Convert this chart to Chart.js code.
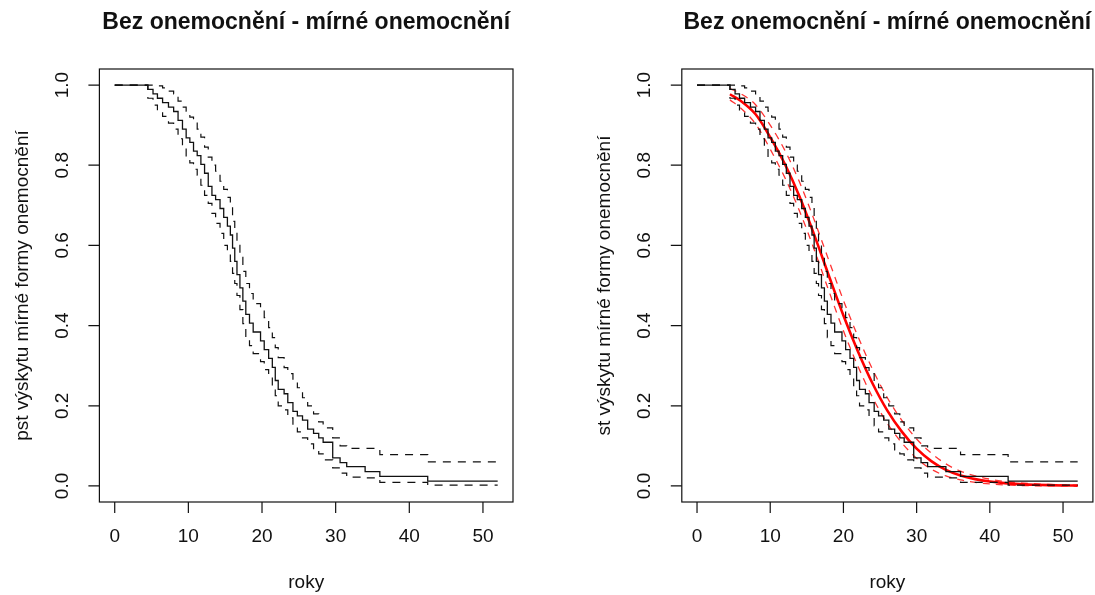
<!DOCTYPE html>
<html>
<head>
<meta charset="utf-8">
<script src="https://cdn.jsdelivr.net/npm/chart.js@4/dist/chart.umd.min.js"></script>
<style>
  body { margin: 0; background: #fff; }
  canvas { position: absolute; top: 0; }
</style>
</head>
<body>
<canvas id="leftChart" width="548" height="595" style="left:0px"></canvas>
<canvas id="rightChart" width="547" height="595" style="left:548px"></canvas>
<script>
// Kaplan-Meier estimate (years, survival) with confidence bounds
const kmTime = [0, 4.5, 5.2, 5.8, 6.5, 7.3, 8.0, 8.6, 9.2, 9.7, 10.2, 10.7, 11.2, 11.7, 12.2, 12.7, 13.2, 13.7, 14.3, 14.8, 15.3, 15.7, 16.0, 16.3, 16.6, 17.0, 17.4, 17.8, 18.3, 18.8, 19.8, 20.3, 20.9, 21.4, 21.8, 22.2, 23.0, 23.5, 24.2, 24.8, 25.5, 26.2, 27.0, 27.7, 28.3, 29.6, 30.6, 31.5, 34.0, 36.0, 42.5, 52];
const kmSurv = [1, 0.989, 0.978, 0.967, 0.956, 0.945, 0.934, 0.912, 0.890, 0.868, 0.857, 0.835, 0.824, 0.802, 0.780, 0.747, 0.725, 0.714, 0.692, 0.670, 0.648, 0.626, 0.593, 0.560, 0.527, 0.494, 0.461, 0.428, 0.406, 0.384, 0.362, 0.340, 0.318, 0.296, 0.263, 0.241, 0.230, 0.208, 0.186, 0.175, 0.164, 0.142, 0.131, 0.120, 0.109, 0.070, 0.058, 0.048, 0.036, 0.024, 0.012, 0.012];
const kmUpper = [1, 1, 1, 0.998, 0.993, 0.985, 0.978, 0.960, 0.945, 0.935, 0.920, 0.905, 0.890, 0.870, 0.845, 0.820, 0.800, 0.785, 0.760, 0.740, 0.720, 0.700, 0.660, 0.630, 0.600, 0.570, 0.535, 0.505, 0.480, 0.455, 0.445, 0.420, 0.395, 0.370, 0.345, 0.320, 0.295, 0.280, 0.260, 0.245, 0.220, 0.200, 0.180, 0.160, 0.145, 0.120, 0.100, 0.094, 0.094, 0.078, 0.060, 0.060];
const kmLower = [1, 0.967, 0.950, 0.935, 0.922, 0.905, 0.890, 0.866, 0.845, 0.820, 0.806, 0.790, 0.775, 0.750, 0.725, 0.705, 0.680, 0.655, 0.630, 0.600, 0.585, 0.560, 0.530, 0.505, 0.475, 0.440, 0.405, 0.370, 0.350, 0.330, 0.310, 0.290, 0.275, 0.250, 0.225, 0.200, 0.190, 0.170, 0.150, 0.135, 0.120, 0.105, 0.090, 0.080, 0.065, 0.045, 0.032, 0.022, 0.020, 0.009, 0.002, 0.002];

// fitted parametric curve (red) with its bounds
const fitTime = [4.5, 6, 8, 10, 12, 14, 16, 18, 20, 22, 24, 26, 28, 30, 32, 34, 36, 38, 40, 42, 44, 46, 48, 50, 52];
const fitSurv = [0.977, 0.960, 0.927, 0.870, 0.803, 0.722, 0.627, 0.525, 0.425, 0.335, 0.255, 0.188, 0.135, 0.093, 0.062, 0.040, 0.026, 0.017, 0.011, 0.007, 0.0045, 0.003, 0.002, 0.0013, 0.0009];
const fitUpper = [0.991, 0.978, 0.951, 0.900, 0.837, 0.758, 0.664, 0.563, 0.463, 0.372, 0.290, 0.220, 0.163, 0.117, 0.082, 0.055, 0.037, 0.025, 0.017, 0.0115, 0.008, 0.0055, 0.004, 0.0028, 0.0021];
const fitLower = [0.963, 0.942, 0.903, 0.840, 0.769, 0.686, 0.590, 0.487, 0.387, 0.298, 0.220, 0.156, 0.107, 0.069, 0.042, 0.025, 0.015, 0.009, 0.005, 0.0025, 0.001, 0.0005, 0, 0, 0];

const xTicks = [0, 10, 20, 30, 40, 50];
const yTicks = [0, 0.2, 0.4, 0.6, 0.8, 1.0];
const yTickLabels = ['0.0', '0.2', '0.4', '0.6', '0.8', '1.0'];

const titleText = 'Bez onemocnění - mírné onemocnění';
const xTitle = 'roky';

function pts(xs, ys) {
    return xs.map((x, i) => ({ x: x, y: ys[i] }));
}

// R-like box, ticks and labels
const framePlugin = {
    id: 'frame',
    afterDraw(chart, args, opts) {
        const ctx = chart.ctx;
        const a = chart.chartArea;
        const xs = chart.scales.x, ys = chart.scales.y;
        ctx.save();
        ctx.strokeStyle = '#111';
        ctx.lineWidth = 1.2;
        ctx.setLineDash([]);
        ctx.strokeRect(a.left, a.top, a.right - a.left, a.bottom - a.top);
        ctx.beginPath();
        xTicks.forEach(v => {
            const px = xs.getPixelForValue(v);
            ctx.moveTo(px, a.bottom);
            ctx.lineTo(px, a.bottom + 11);
        });
        yTicks.forEach(v => {
            const py = ys.getPixelForValue(v);
            ctx.moveTo(a.left, py);
            ctx.lineTo(a.left - 11, py);
        });
        ctx.stroke();

        ctx.fillStyle = '#111';
        ctx.font = '19px "Liberation Sans", Arial, sans-serif';
        ctx.textAlign = 'center';
        ctx.textBaseline = 'middle';
        xTicks.forEach(v => ctx.fillText(String(v), xs.getPixelForValue(v), a.bottom + 35));
        yTicks.forEach((v, i) => {
            ctx.save();
            ctx.translate(a.left - 37, ys.getPixelForValue(v));
            ctx.rotate(-Math.PI / 2);
            ctx.fillText(yTickLabels[i], 0, 0);
            ctx.restore();
        });
        ctx.fillText(xTitle, (a.left + a.right) / 2, a.bottom + 81);
        ctx.save();
        ctx.translate(a.left - 77, (a.top + a.bottom) / 2);
        ctx.rotate(-Math.PI / 2);
        ctx.fillText(opts.yTitle, 0, 0);
        ctx.restore();

        ctx.font = 'bold 23px "Liberation Sans", Arial, sans-serif';
        ctx.fillText(titleText, (a.left + a.right) / 2, 23);
        ctx.restore();
    }
};

function kmDatasets() {
    const dash = [8, 7];
    return [
        { data: pts(kmTime, kmUpper), borderColor: '#111', borderWidth: 1.2, borderDash: dash, stepped: 'before' },
        { data: pts(kmTime, kmLower), borderColor: '#111', borderWidth: 1.2, borderDash: dash, stepped: 'before' },
        { data: pts(kmTime, kmSurv), borderColor: '#111', borderWidth: 1.3, stepped: 'before' }
    ];
}

function makeChart(id, datasets, pad, yTitle) {
    return new Chart(document.getElementById(id), {
        type: 'line',
        data: { datasets: datasets },
        options: {
            responsive: false,
            animation: false,
            devicePixelRatio: 1,
            layout: { padding: pad },
            elements: { point: { radius: 0 }, line: { fill: false } },
            scales: {
                x: { type: 'linear', min: -2.08, max: 54.08, display: false },
                y: { type: 'linear', min: -0.04, max: 1.04, display: false }
            },
            plugins: {
                legend: { display: false },
                tooltip: { enabled: false },
                frame: { yTitle: yTitle }
            }
        },
        plugins: [framePlugin]
    });
}

makeChart('leftChart', kmDatasets(),
    { left: 99.4, right: 35, top: 69, bottom: 93 },
    'pst výskytu mírné formy onemocnění');

const redDash = [7, 6];
makeChart('rightChart', kmDatasets().concat([
    { data: pts(fitTime, fitUpper), borderColor: 'rgba(255,0,0,0.8)', borderWidth: 1.3, borderDash: redDash, cubicInterpolationMode: 'monotone' },
    { data: pts(fitTime, fitLower), borderColor: 'rgba(255,0,0,0.8)', borderWidth: 1.3, borderDash: redDash, cubicInterpolationMode: 'monotone' },
    { data: pts(fitTime, fitSurv), borderColor: '#ff0000', borderWidth: 2.6, cubicInterpolationMode: 'monotone' }
]), { left: 133.8, right: 2.1, top: 69, bottom: 93 },
    'st výskytu mírné formy onemocnění');
</script>
</body>
</html>
